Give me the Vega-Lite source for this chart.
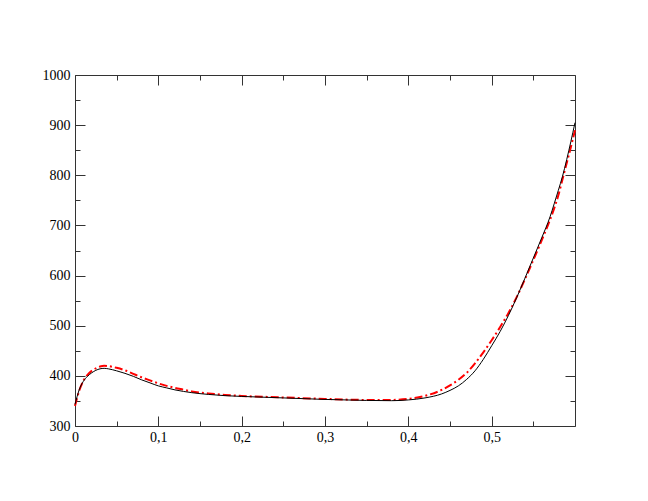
{
  "$schema": "https://vega.github.io/schema/vega-lite/v6.json",
  "width": 500,
  "height": 351,
  "autosize": {"type": "none"},
  "padding": {"left": 75, "top": 75, "right": 73, "bottom": 75},
  "background": "white",
  "config": {
    "view": {"stroke": null},
    "axis": {
      "grid": false,
      "labelFont": "Times New Roman, Liberation Serif, serif",
      "labelFontSize": 14,
      "labelColor": "black",
      "labelFlush": false,
      "domainColor": "#333333",
      "tickColor": "#333333",
      "domainWidth": 1,
      "tickWidth": 1,
      "title": null
    }
  },
  "datasets": {
    "black": [
      {"x": 0.0, "y": 343}, {"x": 0.005, "y": 372}, {"x": 0.01, "y": 389}, {"x": 0.015, "y": 399},
      {"x": 0.02, "y": 406}, {"x": 0.025, "y": 411}, {"x": 0.03, "y": 414}, {"x": 0.035, "y": 415},
      {"x": 0.04, "y": 414}, {"x": 0.05, "y": 410}, {"x": 0.06, "y": 405}, {"x": 0.07, "y": 399},
      {"x": 0.08, "y": 392}, {"x": 0.09, "y": 386}, {"x": 0.1, "y": 380}, {"x": 0.11, "y": 376},
      {"x": 0.12, "y": 372}, {"x": 0.13, "y": 369}, {"x": 0.14, "y": 366.5}, {"x": 0.16, "y": 363},
      {"x": 0.18, "y": 360.5}, {"x": 0.2, "y": 359}, {"x": 0.25, "y": 356}, {"x": 0.3, "y": 353},
      {"x": 0.35, "y": 351}, {"x": 0.38, "y": 350.5}, {"x": 0.4, "y": 352}, {"x": 0.42, "y": 356},
      {"x": 0.44, "y": 364}, {"x": 0.45, "y": 371}, {"x": 0.46, "y": 380}, {"x": 0.47, "y": 393},
      {"x": 0.48, "y": 410}, {"x": 0.49, "y": 433}, {"x": 0.5, "y": 460}, {"x": 0.51, "y": 488},
      {"x": 0.52, "y": 520}, {"x": 0.53, "y": 556}, {"x": 0.54, "y": 595}, {"x": 0.55, "y": 635},
      {"x": 0.56, "y": 675}, {"x": 0.57, "y": 717}, {"x": 0.575, "y": 743}, {"x": 0.58, "y": 770},
      {"x": 0.585, "y": 798}, {"x": 0.59, "y": 831}, {"x": 0.595, "y": 867}, {"x": 0.6, "y": 905}
    ],
    "red": [
      {"x": 0.0, "y": 340}, {"x": 0.005, "y": 370}, {"x": 0.01, "y": 390}, {"x": 0.015, "y": 402},
      {"x": 0.02, "y": 410}, {"x": 0.025, "y": 415}, {"x": 0.03, "y": 418.5}, {"x": 0.035, "y": 420},
      {"x": 0.04, "y": 419.5}, {"x": 0.05, "y": 416}, {"x": 0.06, "y": 411}, {"x": 0.07, "y": 404},
      {"x": 0.08, "y": 397}, {"x": 0.09, "y": 391}, {"x": 0.1, "y": 385}, {"x": 0.11, "y": 380},
      {"x": 0.12, "y": 376}, {"x": 0.13, "y": 372.5}, {"x": 0.14, "y": 369}, {"x": 0.16, "y": 365},
      {"x": 0.18, "y": 362}, {"x": 0.2, "y": 360}, {"x": 0.25, "y": 357}, {"x": 0.3, "y": 354},
      {"x": 0.35, "y": 352}, {"x": 0.38, "y": 352}, {"x": 0.4, "y": 354}, {"x": 0.42, "y": 360},
      {"x": 0.44, "y": 372}, {"x": 0.45, "y": 381}, {"x": 0.46, "y": 392}, {"x": 0.47, "y": 406},
      {"x": 0.48, "y": 425}, {"x": 0.49, "y": 447}, {"x": 0.5, "y": 471}, {"x": 0.51, "y": 497},
      {"x": 0.52, "y": 525}, {"x": 0.53, "y": 557}, {"x": 0.54, "y": 593}, {"x": 0.55, "y": 631},
      {"x": 0.56, "y": 670}, {"x": 0.57, "y": 711}, {"x": 0.575, "y": 734}, {"x": 0.58, "y": 760},
      {"x": 0.585, "y": 792}, {"x": 0.59, "y": 824}, {"x": 0.595, "y": 856}, {"x": 0.6, "y": 890}
    ]
  },
  "layer": [
    {
      "data": {"name": "black"},
      "mark": {"type": "line", "strokeOpacity": 0},
      "encoding": {
        "x": {"field": "x", "type": "quantitative", "scale": {"domain": [0, 0.6], "nice": false, "zero": false},
          "axis": {"orient": "bottom", "values": [0.05, 0.15, 0.25, 0.35, 0.45, 0.55], "tickSize": -5, "labels": false, "domain": false}},
        "y": {"field": "y", "type": "quantitative", "scale": {"domain": [300, 1000], "nice": false, "zero": false},
          "axis": {"orient": "left", "values": [350, 450, 550, 650, 750, 850, 950], "tickSize": -5, "labels": false, "domain": false}}
      }
    },
    {
      "data": {"name": "black"},
      "mark": {"type": "line", "strokeOpacity": 0},
      "encoding": {
        "x": {"field": "x", "type": "quantitative",
          "axis": {"orient": "top", "values": [0.05, 0.15, 0.25, 0.35, 0.45, 0.55], "tickSize": -5, "labels": false, "domain": false}},
        "y": {"field": "y", "type": "quantitative",
          "axis": {"orient": "right", "values": [350, 450, 550, 650, 750, 850, 950], "tickSize": -5, "labels": false, "domain": false}}
      }
    },
    {
      "data": {"name": "red"},
      "mark": {"type": "line", "color": "#ff0000", "strokeWidth": 2, "strokeDash": [8, 3, 2, 3], "interpolate": "monotone"},
      "encoding": {
        "x": {"field": "x", "type": "quantitative",
          "axis": {"orient": "top", "values": [0, 0.1, 0.2, 0.3, 0.4, 0.5], "tickSize": -10, "labels": false}},
        "y": {"field": "y", "type": "quantitative",
          "axis": {"orient": "right", "values": [300, 400, 500, 600, 700, 800, 900, 1000], "tickSize": -10, "labels": false}}
      }
    },
    {
      "data": {"name": "black"},
      "mark": {"type": "line", "color": "black", "strokeWidth": 1, "interpolate": "monotone"},
      "encoding": {
        "x": {"field": "x", "type": "quantitative",
          "axis": {"orient": "bottom", "values": [0, 0.1, 0.2, 0.3, 0.4, 0.5], "tickSize": -10, "labelPadding": 14,
            "labelExpr": "replace(format(datum.value, '~g'), '.', ',')"}},
        "y": {"field": "y", "type": "quantitative",
          "axis": {"orient": "left", "values": [300, 400, 500, 600, 700, 800, 900, 1000], "tickSize": -10, "labelPadding": 15,
            "labelExpr": "format(datum.value, 'd')"}}
      }
    }
  ],
  "resolve": {"axis": {"x": "independent", "y": "independent"}}
}
